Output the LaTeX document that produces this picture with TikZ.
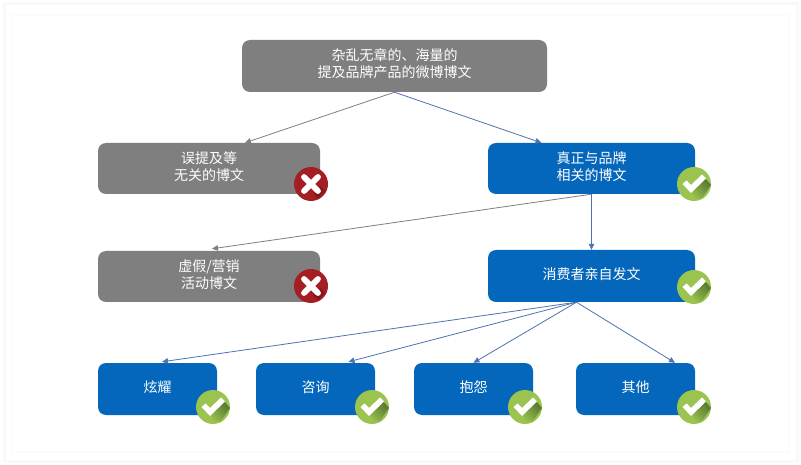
\documentclass[tikz,border=0pt]{standalone}
\usepackage{fontspec}
\setmainfont{Noto Sans CJK SC}
\usetikzlibrary{arrows.meta,calc}
\definecolor{boxgray}{HTML}{7F7F7F}
\definecolor{boxblue}{HTML}{0567BB}
\definecolor{lineblue}{HTML}{4C74AE}
\definecolor{linegray}{HTML}{7F7F7F}
\definecolor{okgreen}{HTML}{9BC34F}
\definecolor{okdark}{HTML}{557530}
\definecolor{nored}{HTML}{A41E24}
\definecolor{nodark}{HTML}{6E1418}
\tikzset{
  x=1pt,y=-1pt,
  flow/.style={rounded corners=8pt,minimum height=0pt,text=white,font=\fontsize{14}{17}\selectfont,align=center,inner sep=0pt,anchor=center},
  graybox/.style={flow,fill=boxgray},
  bluebox/.style={flow,fill=boxblue},
  conn/.style={-{Triangle[length=6pt,width=5.5pt]},line width=0.8pt},
  cgray/.style={conn,draw=linegray},
  cblue/.style={conn,draw=lineblue},
  okdisc/.style={circle,fill=okgreen,minimum size=34pt,inner sep=0pt},
  nodisc/.style={circle,fill=nored,minimum size=34pt,inner sep=0pt},
}
% box: name, x1, y1, x2, y2, style, text
\newcommand{\flowbox}[7]{%
  \node[#6,minimum width=#4pt-#2pt,minimum height=#5pt-#3pt] (#1) at ({(#2+#4)/2},{(#3+#5)/2}) {\raisebox{1.3pt}{\begin{tabular}{@{}c@{}}#7\end{tabular}}};}
\newcommand{\okbadge}[3]{%
  \node[okdisc] (#1) at (#2,#3) {};
  \begin{scope}[shift={(#1.center)}]
    \clip (0,0) circle (17);
    \shade[left color=okdark,right color=okgreen,shading angle=-45] (-6,2) -- (-1,7) -- (10,-7) -- (17,1) -- (8,14) -- (2,15) -- cycle;
    \fill[white] (-11.5,0) -- (-7.5,-3.5) -- (-3,1) -- (8,-9.5) -- (12,-5.5) -- (-3,9) -- cycle;
  \end{scope}}
\newcommand{\nobadge}[3]{%
  \node[nodisc] (#1) at (#2,#3) {};
  \begin{scope}[shift={(#1.center)}]
    \clip (0,0) circle (17);
    \fill[nodark,opacity=.6] (2,9) -- (7,14) -- (14,7) -- (9,2) -- cycle;
    \draw[white,line width=5.8pt,line cap=round] (-7,-7) -- (7,7) (-7,7) -- (7,-7);
  \end{scope}}
\begin{document}
\begin{tikzpicture}
\useasboundingbox (0,0) rectangle (801,465);
\fill[white] (0,0) rectangle (801,465);
\draw[black!2.5,line width=3pt] (4,4) rectangle (797,461);
\draw[black!1,line width=2pt] (12,15) rectangle (789,452);

\flowbox{top}{242}{40}{547}{92}{graybox}{杂乱无章的、海量的\\提及品牌产品的微博博文}
\flowbox{gone}{98}{143}{320}{194}{graybox}{误提及等\\无关的博文}
\flowbox{bone}{488}{143}{695}{194}{bluebox}{真正与品牌\\相关的博文}
\flowbox{gtwo}{98}{251}{320}{302}{graybox}{虚假/营销\\活动博文}
\flowbox{btwo}{488}{250}{695}{302}{bluebox}{消费者亲自发文}
\flowbox{ca}{98}{363}{217}{415}{bluebox}{炫耀}
\flowbox{cb}{256}{363}{375}{415}{bluebox}{咨询}
\flowbox{cc}{414}{363}{533}{415}{bluebox}{抱怨}
\flowbox{cd}{576}{363}{695}{415}{bluebox}{其他}

\draw[cgray] (top.south) -- ([xshift=36]gone.north);
\draw[cblue] (top.south) -- ([xshift=-50]bone.north);
\draw[cgray] (bone.south) -- ([xshift=3,yshift=2]gtwo.north);
\draw[cblue] (bone.south) -- (btwo.north);
\draw[cblue] ([xshift=-15]btwo.south) -- ([xshift=4.5,yshift=1]ca.north);
\draw[cblue] ([xshift=-15]btwo.south) -- ([xshift=33,yshift=1]cb.north);
\draw[cblue] ([xshift=-15]btwo.south) -- (cc.north);
\draw[cblue] ([xshift=-15]btwo.south) -- ([xshift=39.5]cd.north);

\nobadge{xa}{311}{184}
\nobadge{xb}{311}{286}
\okbadge{oa}{694}{184}
\okbadge{ob}{694}{287}
\okbadge{oc}{213}{407}
\okbadge{od}{372}{407}
\okbadge{oe}{525}{407}
\okbadge{of}{694}{407}
\end{tikzpicture}
\end{document}
